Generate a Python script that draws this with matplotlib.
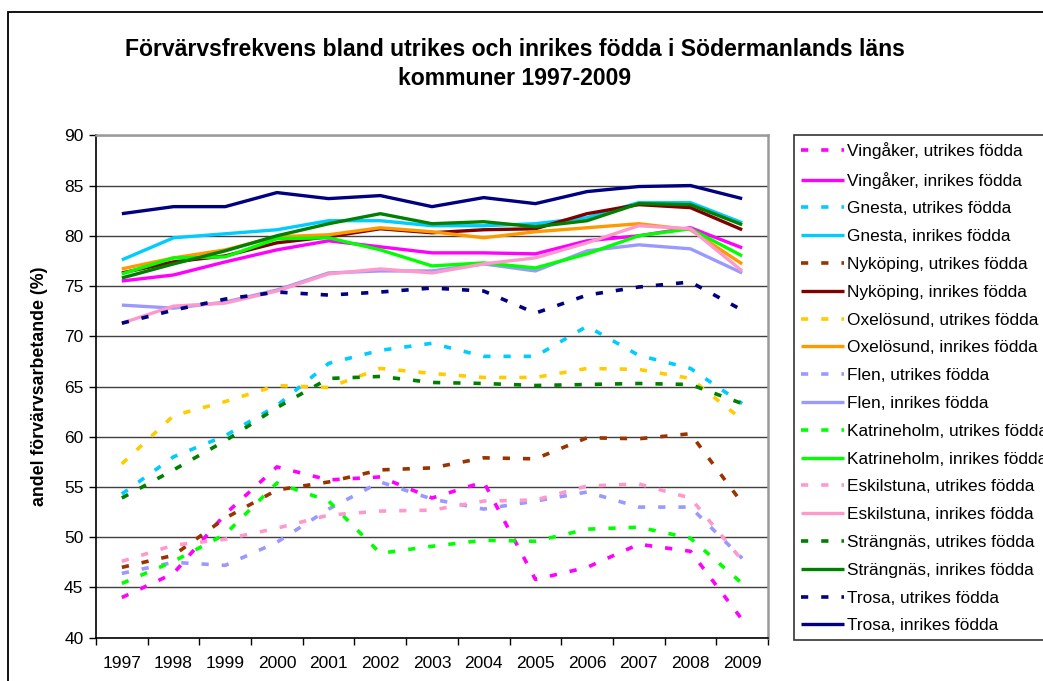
import matplotlib
matplotlib.use("Agg")
import matplotlib.pyplot as plt
from matplotlib.patches import Rectangle
from matplotlib.ticker import FixedLocator

plt.rcParams['font.family'] = ['Liberation Sans', 'DejaVu Sans']

years = [1997, 1998, 1999, 2000, 2001, 2002, 2003, 2004, 2005, 2006, 2007, 2008, 2009]

vingaker_utr = [44.0, 46.4, 52.3, 57.0, 55.7, 56.0, 53.9, 55.5, 45.8, 47.0, 49.3, 48.6, 41.8]
vingaker_inr = [75.5, 76.1, 77.4, 78.6, 79.5, 78.9, 78.3, 78.3, 78.2, 79.5, 80.0, 80.8, 78.8]
gnesta_utr = [54.3, 58.0, 60.1, 63.1, 67.3, 68.6, 69.3, 68.0, 68.0, 71.0, 68.1, 66.8, 63.3]
gnesta_inr = [77.6, 79.8, 80.2, 80.6, 81.5, 81.5, 81.0, 81.0, 81.2, 81.8, 83.3, 83.3, 81.3]
nykoping_utr = [47.0, 48.2, 51.9, 54.7, 55.5, 56.7, 56.9, 57.9, 57.8, 59.9, 59.8, 60.3, 53.4]
nykoping_inr = [76.3, 77.4, 78.0, 79.3, 79.9, 80.7, 80.3, 80.6, 80.7, 82.2, 83.1, 82.8, 80.6]
oxelosund_utr = [57.3, 62.1, 63.5, 65.1, 64.9, 66.8, 66.3, 65.9, 65.9, 66.8, 66.7, 65.8, 61.7]
oxelosund_inr = [76.7, 77.8, 78.6, 79.9, 80.1, 80.8, 80.4, 79.8, 80.4, 80.8, 81.2, 80.6, 77.2]
flen_utr = [46.4, 47.5, 47.2, 49.5, 52.8, 55.5, 53.8, 52.8, 53.6, 54.5, 53.0, 53.0, 47.9]
flen_inr = [73.1, 72.8, 73.4, 74.6, 76.3, 76.5, 76.5, 77.2, 76.5, 78.5, 79.1, 78.7, 76.3]
katrineholm_utr = [45.4, 47.6, 50.3, 55.4, 53.6, 48.4, 49.1, 49.7, 49.6, 50.8, 51.0, 49.9, 45.4]
katrineholm_inr = [76.2, 77.8, 77.9, 79.7, 79.8, 78.6, 77.0, 77.3, 76.8, 78.2, 80.0, 80.7, 78.0]
eskilstuna_utr = [47.6, 49.2, 49.8, 50.9, 52.2, 52.6, 52.7, 53.6, 53.7, 55.1, 55.3, 53.9, 47.7]
eskilstuna_inr = [71.3, 73.0, 73.3, 74.5, 76.2, 76.7, 76.3, 77.2, 77.8, 79.3, 81.0, 80.7, 76.5]
strangnas_utr = [53.9, 56.7, 59.6, 62.9, 65.8, 66.0, 65.4, 65.3, 65.1, 65.2, 65.3, 65.2, 63.3]
strangnas_inr = [75.8, 77.2, 78.5, 80.0, 81.2, 82.2, 81.2, 81.4, 80.9, 81.5, 83.2, 83.1, 81.1]
trosa_utr = [71.3, 72.6, 73.7, 74.4, 74.1, 74.4, 74.8, 74.5, 72.3, 74.1, 74.9, 75.4, 72.6]
trosa_inr = [82.2, 82.9, 82.9, 84.3, 83.7, 84.0, 82.9, 83.8, 83.2, 84.4, 84.9, 85.0, 83.7]

# (kommun, utrikes, inrikes, colour utrikes, colour inrikes)
kommuner = [
    ("Vingåker", vingaker_utr, vingaker_inr, "#FF00FF", "#FF00FF"),
    ("Gnesta", gnesta_utr, gnesta_inr, "#00CCFF", "#00CCFF"),
    ("Nyköping", nykoping_utr, nykoping_inr, "#993300", "#800000"),
    ("Oxelösund", oxelosund_utr, oxelosund_inr, "#FFCC00", "#FF9900"),
    ("Flen", flen_utr, flen_inr, "#9999FF", "#9999FF"),
    ("Katrineholm", katrineholm_utr, katrineholm_inr, "#00FF00", "#00FF00"),
    ("Eskilstuna", eskilstuna_utr, eskilstuna_inr, "#FF99CC", "#FF99CC"),
    ("Strängnäs", strangnas_utr, strangnas_inr, "#008000", "#008000"),
    ("Trosa", trosa_utr, trosa_inr, "#000080", "#000080"),
]

W, H = 1043, 681
fig = plt.figure(figsize=(W / 100, H / 100), dpi=100)
ax = fig.add_axes([96 / W, 1 - 637.7 / H, (768 - 96) / W, (637.7 - 135.3) / H])

x = list(range(len(years)))
for name, utr, inr, c_utr, c_inr in kommuner:
    ax.plot(x, utr, color=c_utr, lw=2.6, dashes=(2.0, 3.6), dash_capstyle='butt',
            label=f"{name}, utrikes födda")
    ax.plot(x, inr, color=c_inr, lw=2.4, solid_capstyle='butt',
            label=f"{name}, inrikes födda")

ax.set_xlim(-0.5, len(years) - 0.5)
ax.set_ylim(40, 90)
ax.set_yticks(range(40, 91, 5))
ax.set_xticks(x)
ax.set_xticklabels([str(y) for y in years])
ax.xaxis.set_minor_locator(FixedLocator([i - 0.5 for i in range(len(years) + 1)]))
ax.tick_params(axis='x', which='major', length=0, labelsize=12.5, pad=13)
ax.tick_params(axis='x', which='minor', length=5, width=1, direction='out')
ax.tick_params(axis='y', length=5, width=1, direction='out', labelsize=12.5, pad=4)
ax.grid(axis='y', color='#404040', lw=1)
ax.set_axisbelow(True)
for s in ['top', 'right']:
    ax.spines[s].set_color('#9a9a9a')
    ax.spines[s].set_linewidth(1.8)
for s in ['left', 'bottom']:
    ax.spines[s].set_color('black')
    ax.spines[s].set_linewidth(1.2)

fig.text(40 / W, 1 - 386.5 / H, "andel förvärvsarbetande (%)", rotation=90,
         ha='center', va='center', fontsize=12.8, fontweight='bold')

fig.text(515 / W, 1 - 64 / H,
         "Förvärvsfrekvens bland utrikes och inrikes födda i Södermanlands läns\nkommuner 1997-2009",
         ha='center', va='center', fontsize=16.6, fontweight='bold', linespacing=1.38)

leg = fig.legend(loc='upper left', bbox_to_anchor=(794 / W, 1 - 135 / H),
                 borderaxespad=0, fontsize=12.4, frameon=True, fancybox=False,
                 handlelength=2.5, handletextpad=0.2, labelspacing=0.74, borderpad=0.4)
leg.get_frame().set_edgecolor('black')
leg.get_frame().set_linewidth(1.2)

fig.patches.append(Rectangle((8 / W, -0.1), 1.2, 1 - 12 / H + 0.1, transform=fig.transFigure,
                             fill=False, ec='black', lw=1.3))

fig.savefig("out.png", dpi=100)
